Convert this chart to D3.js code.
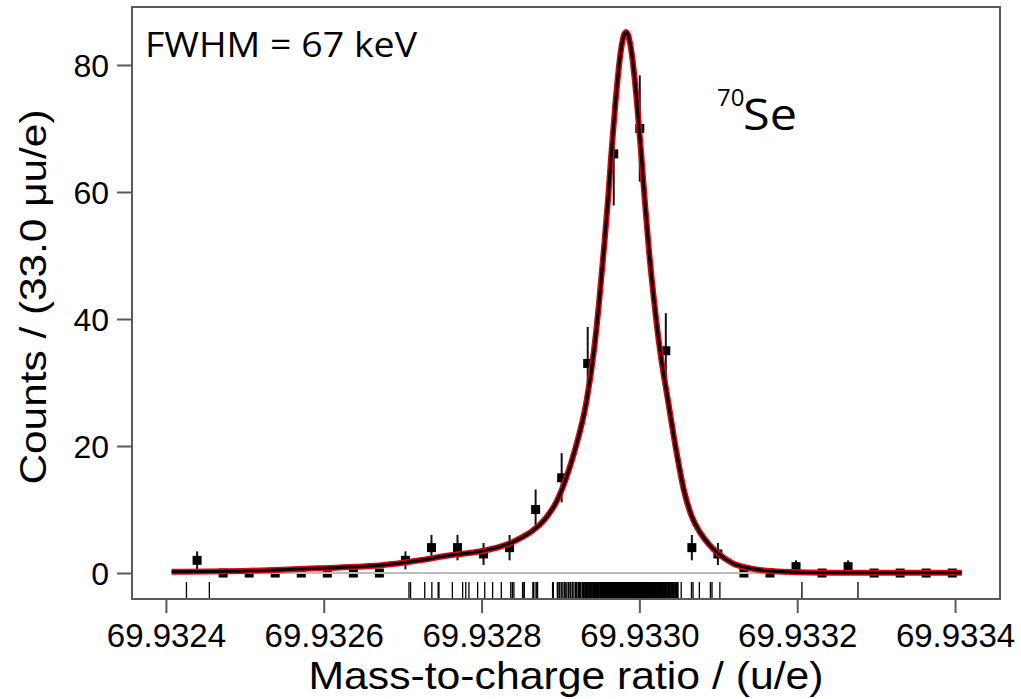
<!DOCTYPE html>
<html>
<head>
<meta charset="utf-8">
<title>70Se</title>
<script src="https://d3js.org/d3.v7.min.js"></script>
<style>
  body { margin: 0; background: #fff; }
  svg { display: block; }
</style>
</head>
<body>
<div id="chart"></div>
<script>
const WIDTH = 1021;
const HEIGHT = 699;

// masses are stored as offsets in micro-u above 69.932 u
const MASS_REF = 69.932;

// histogram (bin width 33.0 micro-u)
const binCenters = [439.5, 472.5, 505.5, 538.5, 571.5, 604.5, 637.5, 670.5, 703.5, 736.5,
                    769.5, 802.5, 835.5, 868.5, 901.5, 934.5, 967.5, 1000.5, 1033.5, 1066.5,
                    1099.5, 1132.5, 1165.5, 1198.5, 1231.5, 1264.5, 1297.5, 1330.5, 1363.5, 1396.5];
const binCounts = [2, 0, 0, 0, 0, 0, 0, 0, 2, 4,
                   4, 3, 4, 10, 15, 33, 66, 70, 35, 4,
                   3, 0, 0, 1, 0, 1, 0, 0, 0, 0];

// fitted curve
const curveMass = [407.2, 506.5, 591.0, 675.4, 717.7, 760.0, 802.2, 836.0, 851.0, 865.1, 880.4, 895.2,
                   907.0, 918.4, 933.2, 942.5, 949.2, 955.0, 960.2, 964.8, 970.0, 976.7, 979.9, 983.0,
                   986.2, 989.6, 996.6, 1001.9, 1006.8, 1012.0, 1018.5, 1026.1, 1036.2, 1046.4,
                   1056.5, 1066.7, 1076.8, 1088.2, 1099.6, 1118.6, 1140.2, 1161.7, 1182.0, 1245.4, 1408.5];
const curveCounts = [0.2, 0.36, 0.74, 1.26, 1.94, 2.8, 3.5, 4.7, 5.6, 6.7, 8.5, 11.3,
                     14.9, 19.4, 27.2, 35.1, 43.0, 51.0, 58.7, 66.6, 74.5, 82.4, 84.5, 85.2,
                     84.5, 82.4, 74.5, 66.6, 58.7, 51.0, 43.0, 35.1, 27.2, 19.5,
                     13.0, 8.8, 6.4, 4.5, 3.1, 1.5, 0.74, 0.35, 0.2, 0.05, 0.05];

// unbinned events (rug)
const rugMass = [
  426, 455,
  708, 710,
  728, 737, 745, 746,
  763, 776, 780, 784,
  795, 804, 814,
  825, 837, 839, 841,
  852, 852, 854, 854, 865, 866, 866, 869, 870, 871,
  890, 891, 896, 897, 899, 901, 903, 905, 906, 908, 910, 912, 913, 915, 917,
  919, 920, 921, 923, 924, 925, 926, 928, 929, 930, 931, 932, 933, 934, 935, 936, 937, 938,
  939, 940, 941, 942, 943, 944, 945, 945, 946, 947, 948, 948, 949, 950, 951,
  951, 952, 952, 953, 953, 954, 954, 955, 955, 956, 956, 957, 957, 958, 958, 959, 959, 960,
  960, 961, 961, 962, 962, 963, 963, 964, 964, 965, 965, 966, 966, 967, 967, 968, 968, 969,
  969, 970, 970, 971, 971, 972, 972, 973, 973, 974, 974, 975, 975, 976, 976, 977, 977, 978,
  978, 979, 979, 980, 980, 981, 981, 982, 982, 983, 983, 984,
  984, 985, 985, 986, 986, 987, 987, 988, 988, 989, 989, 990, 990, 990, 991, 991, 992, 992,
  993, 993, 994, 994, 995, 995, 996, 996, 997, 997, 998, 998, 999, 999, 1000, 1000, 1000,
  1001, 1001, 1002, 1002, 1003, 1003, 1004, 1004, 1005, 1005, 1006, 1006, 1007, 1007, 1008,
  1008, 1009, 1009, 1010, 1010, 1011, 1011, 1012, 1012, 1013, 1013, 1014, 1014, 1015, 1015,
  1016, 1016, 1017,
  1018, 1019, 1020, 1020, 1021, 1022, 1023, 1024, 1025, 1025, 1026, 1027, 1028, 1029, 1030,
  1030, 1031, 1032, 1033, 1034, 1035, 1036, 1037, 1038, 1039, 1040, 1041, 1042, 1043, 1044,
  1045, 1046, 1047, 1048, 1049,
  1053, 1066, 1068, 1076,
  1090, 1092, 1102,
  1206,
  1277
];

const xTicks = [69.9324, 69.9326, 69.9328, 69.9330, 69.9332, 69.9334];
const yTicks = [0, 20, 40, 60, 80];

const toMass = function (u) { return MASS_REF + u * 1e-6; };

// frame of the plot area
const plotLeft = 132, plotRight = 1000, plotTop = 7, plotBottom = 599;

const x = d3.scaleLinear().domain([69.932357, 69.933457]).range([plotLeft, plotRight]);
const y = d3.scaleLinear().domain([-4.09, 89.13]).range([plotBottom, plotTop]);

const svg = d3.select('#chart').append('svg')
  .attr('width', WIDTH)
  .attr('height', HEIGHT);

const frameColor = '#5a5a5a';

// error bars and markers
const pts = binCenters.map(function (c, i) {
  return { m: toMass(c), n: binCounts[i] };
});

svg.append('g').selectAll('line')
  .data(pts.filter(function (d) { return d.n > 0; }))
  .enter().append('line')
  .attr('x1', function (d) { return x(d.m); })
  .attr('x2', function (d) { return x(d.m); })
  .attr('y1', function (d) { return y(d.n - Math.sqrt(d.n)); })
  .attr('y2', function (d) { return y(d.n + Math.sqrt(d.n)); })
  .attr('stroke', '#111')
  .attr('stroke-width', 2);

svg.append('g').selectAll('rect')
  .data(pts)
  .enter().append('rect')
  .attr('x', function (d) { return x(d.m) - 4.5; })
  .attr('y', function (d) { return y(d.n) - 4.5; })
  .attr('width', 9)
  .attr('height', 9)
  .attr('fill', '#000');

// zero line
svg.append('line')
  .attr('x1', x(toMass(curveMass[0])))
  .attr('x2', x(toMass(curveMass[curveMass.length - 1])))
  .attr('y1', y(0))
  .attr('y2', y(0))
  .attr('stroke', '#bdbdbd')
  .attr('stroke-width', 2);

// fit curve: red halo with black core
const line = d3.line()
  .x(function (d) { return x(toMass(d[0])); })
  .y(function (d) { return y(d[1]); })
  .curve(d3.curveMonotoneX);

const curveData = curveMass.map(function (m, i) { return [m, curveCounts[i]]; });

svg.append('path')
  .attr('d', line(curveData))
  .attr('fill', 'none')
  .attr('stroke', '#e8000b')
  .attr('stroke-width', 6)
  .attr('stroke-linejoin', 'round');

svg.append('path')
  .attr('d', line(curveData))
  .attr('fill', 'none')
  .attr('stroke', '#000')
  .attr('stroke-width', 3)
  .attr('stroke-linejoin', 'round');

// rug of single events
svg.append('g').selectAll('line')
  .data(rugMass)
  .enter().append('line')
  .attr('x1', function (d) { return x(toMass(d)); })
  .attr('x2', function (d) { return x(toMass(d)); })
  .attr('y1', plotBottom - 17)
  .attr('y2', plotBottom)
  .attr('stroke', '#000')
  .attr('stroke-width', 1.3);

// frame
svg.append('rect')
  .attr('x', plotLeft)
  .attr('y', plotTop)
  .attr('width', plotRight - plotLeft)
  .attr('height', plotBottom - plotTop)
  .attr('fill', 'none')
  .attr('stroke', frameColor)
  .attr('stroke-width', 2);

// axes
const xAxis = d3.axisBottom(x)
  .tickValues(xTicks)
  .tickSize(14)
  .tickPadding(8)
  .tickFormat(d3.format('.4f'));

const gx = svg.append('g')
  .attr('transform', 'translate(0,' + plotBottom + ')')
  .call(xAxis);
gx.select('.domain').remove();
gx.selectAll('.tick line').attr('stroke', frameColor).attr('stroke-width', 2);
gx.selectAll('.tick text')
  .attr('font-family', "'Liberation Sans', Arial, sans-serif")
  .attr('font-size', 33)
  .attr('fill', '#000')
  .attr('dy', 0)
  .attr('y', 48);

const yAxis = d3.axisLeft(y)
  .tickValues(yTicks)
  .tickSize(15)
  .tickPadding(8);

const gy = svg.append('g')
  .attr('transform', 'translate(' + plotLeft + ',0)')
  .call(yAxis);
gy.select('.domain').remove();
gy.selectAll('.tick line').attr('stroke', frameColor).attr('stroke-width', 2);
gy.selectAll('.tick text')
  .attr('font-family', "'Liberation Sans', Arial, sans-serif")
  .attr('font-size', 32)
  .attr('fill', '#000')
  .attr('x', -23)
  .attr('dy', '0.35em');

// axis titles
svg.append('text')
  .attr('x', (plotLeft + plotRight) / 2)
  .attr('y', 689)
  .attr('text-anchor', 'middle')
  .attr('font-family', "'Liberation Sans', Arial, sans-serif")
  .attr('font-size', 39)
  .attr('textLength', 515)
  .attr('lengthAdjust', 'spacingAndGlyphs')
  .text('Mass-to-charge ratio / (u/e)');

svg.append('text')
  .attr('transform', 'translate(46,' + 297 + ') rotate(-90)')
  .attr('text-anchor', 'middle')
  .attr('font-family', "'Liberation Sans', Arial, sans-serif")
  .attr('font-size', 37)
  .attr('textLength', 375)
  .attr('lengthAdjust', 'spacingAndGlyphs')
  .text('Counts / (33.0 \u03BCu/e)');

// annotations
svg.append('text')
  .attr('x', 145)
  .attr('y', 57)
  .attr('font-family', "'Open Sans', 'Noto Sans', sans-serif")
  .attr('font-size', 35)
  .attr('textLength', 272)
  .attr('lengthAdjust', 'spacingAndGlyphs')
  .text('FWHM = 67 keV');

svg.append('text')
  .attr('x', 717)
  .attr('y', 106)
  .attr('font-family', "'Open Sans', 'Noto Sans', sans-serif")
  .attr('font-size', 24)
  .text('70');

svg.append('text')
  .attr('x', 743)
  .attr('y', 130)
  .attr('font-family', "'Open Sans', 'Noto Sans', sans-serif")
  .attr('font-size', 44)
  .attr('textLength', 54)
  .attr('lengthAdjust', 'spacingAndGlyphs')
  .text('Se');
</script>
</body>
</html>
